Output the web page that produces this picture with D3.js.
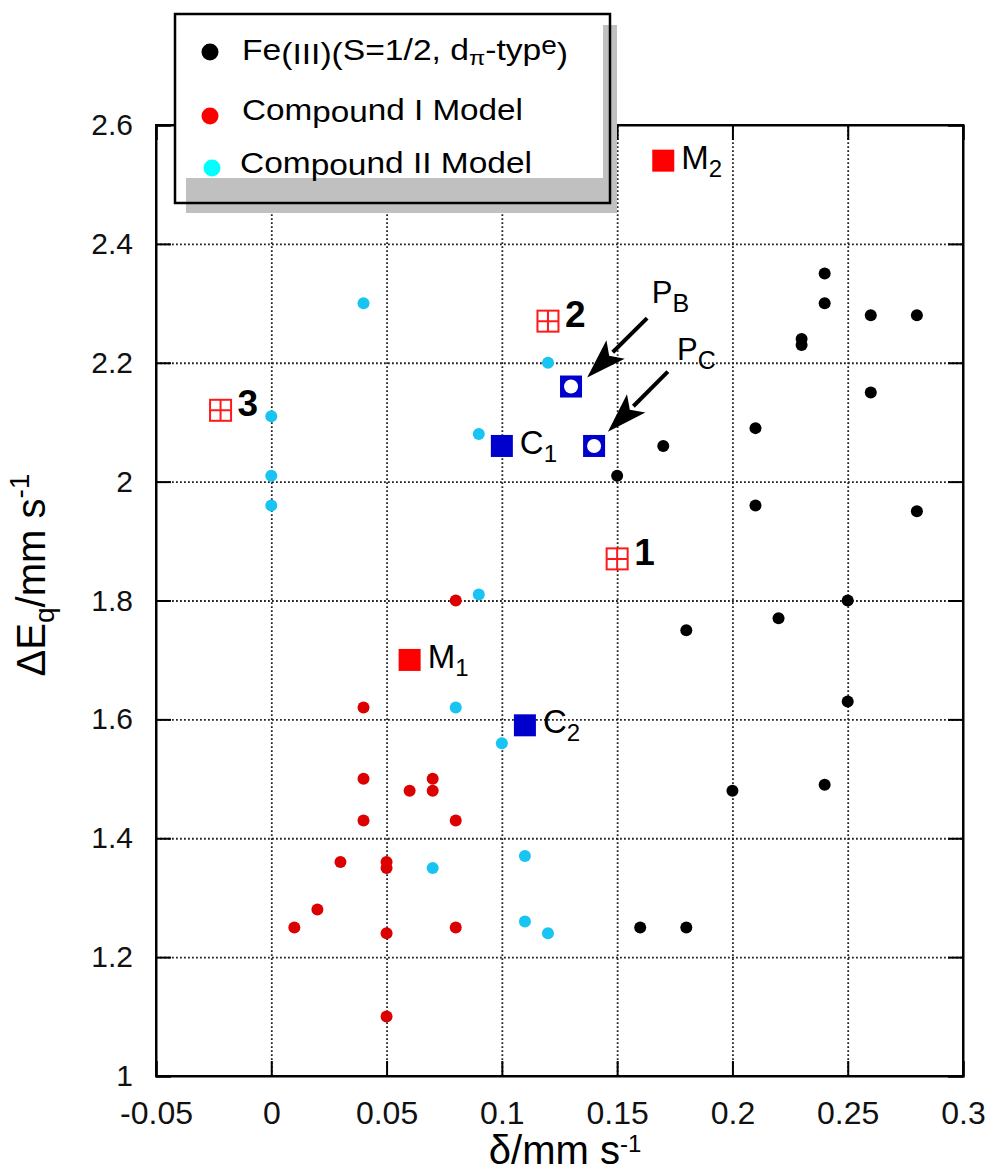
<!DOCTYPE html>
<html>
<head>
<meta charset="utf-8">
<script src="https://cdn.jsdelivr.net/npm/d3@7"></script>
<style>
body { margin: 0; background: #fff; }
svg { display: block; }
text { font-family: "Liberation Sans", Arial, sans-serif; }
</style>
</head>
<body>
<script>
// ---- data ----
var feIII = [[0.15,2.01],[0.17,2.06],[0.21,2.09],[0.21,1.96],[0.24,2.35],[0.24,2.30],
             [0.23,2.23],[0.23,2.24],[0.26,2.28],[0.28,2.28],[0.26,2.15],[0.28,1.95],
             [0.25,1.80],[0.22,1.77],[0.18,1.75],[0.25,1.63],[0.24,1.49],[0.20,1.48],
             [0.16,1.25],[0.18,1.25]];
var compoundI = [[0.08,1.80],[0.04,1.62],[0.04,1.50],[0.06,1.48],[0.07,1.50],[0.07,1.48],
                 [0.04,1.43],[0.08,1.43],[0.03,1.36],[0.05,1.36],[0.05,1.35],[0.02,1.28],
                 [0.01,1.25],[0.05,1.24],[0.08,1.25],[0.05,1.10]];
var compoundII = [[0.04,2.30],[0.12,2.20],[0.09,2.08],[0.00,2.11],[0.00,2.01],[0.00,1.96],
                  [0.09,1.81],[0.08,1.62],[0.10,1.56],[0.11,1.37],[0.07,1.35],[0.11,1.26],
                  [0.12,1.24]];
var redSquares  = [["M","1",0.06,1.70],["M","2",0.17,2.54]];
var blueSquares = [["C","1",0.10,2.06],["C","2",0.11,1.59]];
var openSquares = [[0.13,2.16],[0.14,2.06]];
var numbered    = [["1",0.15,1.87],["2",0.12,2.27],["3",-0.022,2.12]];
var arrowNames  = [["P","B"],["P","C"]];
var arrowFrom   = [[0.163,2.275],[0.172,2.185]];
var arrowTo     = [[0.137,2.175],[0.146,2.084]];
var arrowText   = [[0.165,2.300],[0.176,2.205]];
var xTicks = [-0.05,0,0.05,0.1,0.15,0.2,0.25,0.3];
var xTickLabels = ["-0.05","0","0.05","0.1","0.15","0.2","0.25","0.3"];
var yTicks = [1,1.2,1.4,1.6,1.8,2,2.2,2.4,2.6];
var yTickLabels = ["1","1.2","1.4","1.6","1.8","2","2.2","2.4","2.6"];

// ---- layout ----
var W = 988, H = 1174;
var pL = 156, pR = 963, pT = 125, pB = 1076;

var svg = d3.select("body").append("svg")
    .attr("width", W)
    .attr("height", H);

var x = d3.scaleLinear().domain([-0.05, 0.3]).range([pL, pR]);
var y = d3.scaleLinear().domain([1, 2.6]).range([pB, pT]);

// dotted grid
svg.append("g")
    .attr("transform", "translate(0," + pB + ")")
    .call(d3.axisBottom(x).tickValues(xTicks.slice(1, -1)).tickSize(-(pB - pT)).tickFormat(""))
    .call(function(g) { g.select(".domain").remove(); })
    .selectAll("line")
    .attr("stroke", "#222").attr("stroke-width", 1.8).attr("stroke-dasharray", "1.8 2.2");

svg.append("g")
    .attr("transform", "translate(" + pL + ",0)")
    .call(d3.axisLeft(y).tickValues(yTicks.slice(1, -1)).tickSize(-(pR - pL)).tickFormat(""))
    .call(function(g) { g.select(".domain").remove(); })
    .selectAll("line")
    .attr("stroke", "#222").attr("stroke-width", 1.8).attr("stroke-dasharray", "1.8 2.2");

// axes with inward ticks
var tk = 15;
var xAxis = svg.append("g")
    .attr("transform", "translate(0," + pB + ")")
    .call(d3.axisBottom(x).tickValues(xTicks).tickSize(-tk).tickPadding(25)
        .tickFormat(function(d, i) { return xTickLabels[i]; }));
xAxis.selectAll("text").attr("font-size", 32).attr("fill", "#111")
    .attr("font-family", "'Liberation Sans', Arial, sans-serif");

var yAxis = svg.append("g")
    .attr("transform", "translate(" + pL + ",0)")
    .call(d3.axisLeft(y).tickValues(yTicks).tickSize(-tk).tickPadding(23)
        .tickFormat(function(d, i) { return yTickLabels[i]; }));
yAxis.selectAll("text").attr("font-size", 30).attr("fill", "#111")
    .attr("font-family", "'DejaVu Sans', sans-serif");

svg.append("g").attr("transform", "translate(0," + pT + ")")
    .call(d3.axisTop(x).tickValues(xTicks).tickSize(-tk).tickFormat(""));
svg.append("g").attr("transform", "translate(" + pR + ",0)")
    .call(d3.axisRight(y).tickValues(yTicks).tickSize(-tk).tickFormat(""));

svg.selectAll(".tick line").filter(function() { return !this.getAttribute("stroke-dasharray"); })
    .attr("stroke", "#000").attr("stroke-width", 2);
svg.selectAll(".domain").attr("stroke", "#000").attr("stroke-width", 2);

// frame
svg.append("rect")
    .attr("x", pL).attr("y", pT)
    .attr("width", pR - pL).attr("height", pB - pT)
    .attr("fill", "none").attr("stroke", "#000").attr("stroke-width", 2);

// scatter series
function dots(data, color) {
  svg.append("g").selectAll("circle")
    .data(data).enter().append("circle")
      .attr("cx", function(d) { return x(d[0]); })
      .attr("cy", function(d) { return y(d[1]); })
      .attr("r", 6)
      .attr("fill", color);
}
dots(feIII, "#000");
dots(compoundI, "#dd0000");
dots(compoundII, "#17c4f2");

// labelled filled squares
function squares(data, color) {
  var g = svg.append("g").selectAll("g")
    .data(data).enter().append("g")
      .attr("transform", function(d) { return "translate(" + x(d[2]) + "," + y(d[3]) + ")"; });
  g.append("rect")
      .attr("x", -11).attr("y", -11).attr("width", 22).attr("height", 22)
      .attr("fill", color);
  var t = g.append("text")
      .attr("x", 18).attr("y", 8)
      .attr("font-size", 33);
  t.append("tspan").text(function(d) { return d[0]; });
  t.append("tspan").attr("font-size", 24).attr("dy", 8).text(function(d) { return d[1]; });
}
squares(redSquares, "#ff0000");
squares(blueSquares, "#0000cc");

// open blue squares (PB, PC)
var os = svg.append("g").selectAll("g")
  .data(openSquares).enter().append("g")
    .attr("transform", function(d) { return "translate(" + x(d[0]) + "," + y(d[1]) + ")"; });
os.append("rect")
    .attr("x", -11).attr("y", -11).attr("width", 22).attr("height", 22)
    .attr("fill", "#0000cc");
os.append("circle").attr("r", 7).attr("fill", "#fff");

// numbered compounds (red grid squares)
var ns = svg.append("g").selectAll("g")
  .data(numbered).enter().append("g")
    .attr("transform", function(d) { return "translate(" + x(d[1]) + "," + y(d[2]) + ")"; });
ns.append("rect")
    .attr("x", -10.5).attr("y", -10.5).attr("width", 21).attr("height", 21)
    .attr("fill", "#fff").attr("stroke", "#ff1a1a").attr("stroke-width", 2);
ns.append("path")
    .attr("d", "M-10.5,0H10.5M0,-10.5V10.5")
    .attr("stroke", "#ff1a1a").attr("stroke-width", 2);
ns.append("text")
    .attr("x", 17).attr("y", 6)
    .attr("font-size", 37).attr("font-weight", "bold")
    .text(function(d) { return d[0]; });

// arrows to PB and PC
arrowNames.forEach(function(n, i) {
  var x0 = x(arrowFrom[i][0]), y0 = y(arrowFrom[i][1]);
  var x1 = x(arrowTo[i][0]), y1 = y(arrowTo[i][1]);
  var dx = x1 - x0, dy = y1 - y0, len = Math.sqrt(dx * dx + dy * dy);
  var ux = dx / len, uy = dy / len, hl = 40, hw = 13;
  var bx = x1 - ux * hl, by = y1 - uy * hl;
  svg.append("line")
      .attr("x1", x0).attr("y1", y0).attr("x2", bx + ux * 4).attr("y2", by + uy * 4)
      .attr("stroke", "#000").attr("stroke-width", 4);
  svg.append("path")
      .attr("d", "M" + x1 + "," + y1 +
                 "L" + (bx - uy * hw) + "," + (by + ux * hw) +
                 "L" + (bx + ux * 9) + "," + (by + uy * 9) +
                 "L" + (bx + uy * hw) + "," + (by - ux * hw) + "Z")
      .attr("fill", "#000");
  var t = svg.append("text")
      .attr("x", x(arrowText[i][0])).attr("y", y(arrowText[i][1]))
      .attr("font-size", 31);
  t.append("tspan").text(n[0]);
  t.append("tspan").attr("font-size", 25).attr("dy", 9).text(n[1]);
});

// axis titles
var xt = svg.append("text")
    .attr("x", 565).attr("y", 1164)
    .attr("text-anchor", "middle")
    .attr("font-size", 40);
xt.append("tspan").text("δ/mm s");
xt.append("tspan").attr("font-size", 24).attr("dy", -12).text("-1");

var yt = svg.append("text")
    .attr("transform", "translate(45,575) rotate(-90)")
    .attr("text-anchor", "middle")
    .attr("font-size", 40);
yt.append("tspan").text("ΔE");
yt.append("tspan").attr("font-size", 28).attr("dy", 9).text("q");
yt.append("tspan").attr("dy", -9).text("/mm s");
yt.append("tspan").attr("font-size", 28).attr("dy", -16).text("-1");

// legend
var lg = svg.append("g");
lg.append("rect").attr("x", 186).attr("y", 25).attr("width", 431).attr("height", 188).attr("fill", "#c0c0c0");
lg.append("rect").attr("x", 175).attr("y", 14).attr("width", 428).attr("height", 164).attr("fill", "#fff");
lg.append("rect").attr("x", 175).attr("y", 14).attr("width", 435).attr("height", 189)
    .attr("fill", "none").attr("stroke", "#000").attr("stroke-width", 2.5);

lg.append("circle").attr("cx", 210).attr("cy", 52).attr("r", 8.5).attr("fill", "#000");
lg.append("circle").attr("cx", 210).attr("cy", 116).attr("r", 8.5).attr("fill", "#ff0000");
lg.append("circle").attr("cx", 212).attr("cy", 168).attr("r", 8.5).attr("fill", "#00ffff");

var l1 = lg.append("text").attr("x", 242).attr("y", 60).attr("font-size", 30)
    .attr("textLength", 326).attr("lengthAdjust", "spacingAndGlyphs");
l1.append("tspan").text("Fe");
l1.append("tspan").attr("dy", 4).text("(III)(");
l1.append("tspan").attr("dy", -4).text("S=1/2, d");
l1.append("tspan").attr("font-size", 21).attr("dy", 5).text("π");
l1.append("tspan").attr("dy", -5).text("-typ");
l1.append("tspan").attr("font-size", 25).attr("dy", -6).text("e");
l1.append("tspan").attr("dy", 10).text(")");

function legendRow(yy, x0, w, rest) {
  var t = lg.append("text").attr("x", x0).attr("y", yy).attr("font-size", 30)
      .attr("textLength", w).attr("lengthAdjust", "spacingAndGlyphs");
  t.append("tspan").text("Com");
  t.append("tspan").attr("dy", 2).text("pou");
  t.append("tspan").attr("dy", -2).text("nd " + rest);
}
legendRow(120, 242, 281, "I Model");
legendRow(173, 240, 292, "II Model");
</script>
</body>
</html>
